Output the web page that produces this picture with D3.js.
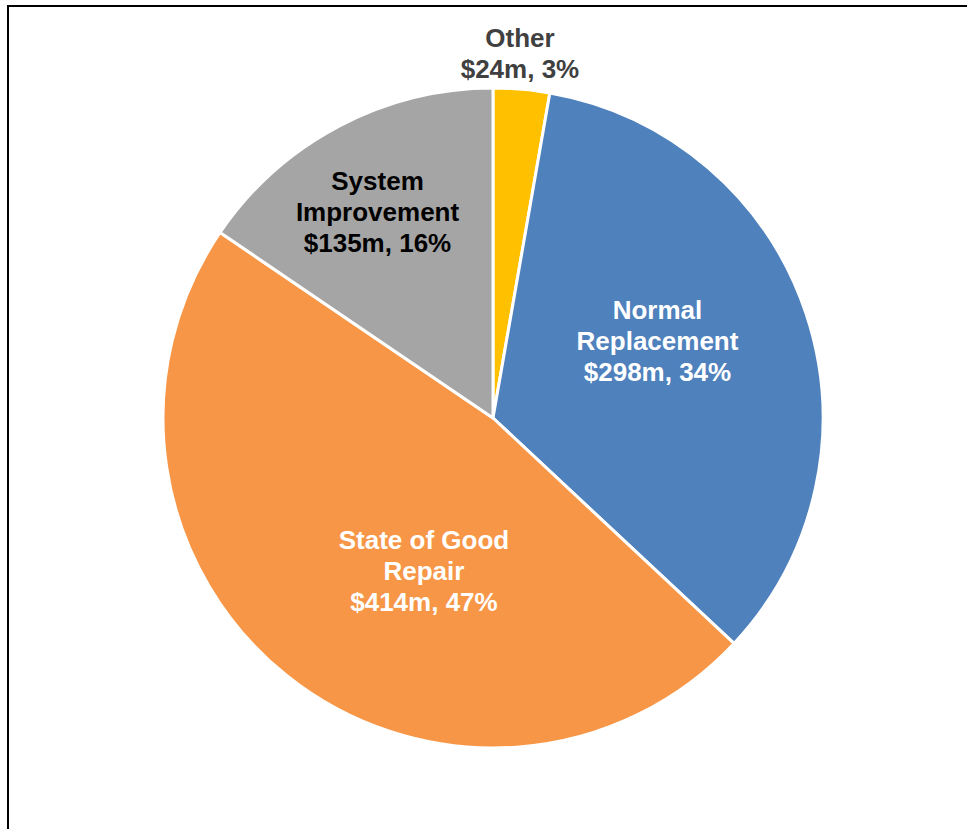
<!DOCTYPE html>
<html>
<head>
<meta charset="utf-8">
<script src="https://cdn.jsdelivr.net/npm/d3@7"></script>
<style>
  html, body { margin: 0; padding: 0; background: #ffffff; }
  svg { display: block; }
</style>
</head>
<body>
<svg id="chart" width="967" height="829"></svg>
<script>
// ---- data ----
const categories = ["Other", "Normal Replacement", "State of Good Repair", "System Improvement"];
const labelLines = [
  ["Other", "$24m, 3%"],
  ["Normal", "Replacement", "$298m, 34%"],
  ["State of Good", "Repair", "$414m, 47%"],
  ["System", "Improvement", "$135m, 16%"]
];
const values = [24, 298, 414, 135];

// ---- styles / layout ----
const colors = ["#FFC000", "#4F81BD", "#F79646", "#A5A5A5"];
const labelColors = ["#404040", "#ffffff", "#ffffff", "#000000"];
const labelNudge = [[12.7, -200.6], [8, -24.6], [34, 24], [-38.3, -60.7]];

const W = 967, H = 829;
const cx = 493, cy = 418, r = 330;
const fontSize = 26, lineH = 31;

const svg = d3.select("#chart");

// frame
svg.append("rect")
  .attr("x", 8).attr("y", 6)
  .attr("width", 1200).attr("height", 1200)
  .attr("fill", "none")
  .attr("stroke", "#000")
  .attr("stroke-width", 2);

const pie = d3.pie().sort(null).value(d => d)(values);
const arc = d3.arc().innerRadius(0).outerRadius(r);

const g = svg.append("g").attr("transform", `translate(${cx},${cy})`);

g.selectAll("path.slice")
  .data(pie)
  .join("path")
  .attr("class", "slice")
  .attr("d", arc)
  .attr("fill", (d, i) => colors[i])
  .attr("stroke", "#ffffff")
  .attr("stroke-width", 3)
  .attr("stroke-linejoin", "round");

const labels = g.selectAll("text.lbl")
  .data(pie)
  .join("text")
  .attr("class", "lbl")
  .attr("text-anchor", "middle")
  .attr("font-family", "'Liberation Sans', Arial, sans-serif")
  .attr("font-weight", "bold")
  .attr("font-size", fontSize)
  .attr("fill", (d, i) => labelColors[i]);

labels.each(function(d, i) {
  const c = arc.centroid(d);
  const x = c[0] + labelNudge[i][0];
  const y = c[1] + labelNudge[i][1];
  const lines = labelLines[i];
  const n = lines.length;
  d3.select(this).selectAll("tspan")
    .data(lines)
    .join("tspan")
    .attr("x", x)
    .attr("y", (t, k) => y + (k - (n - 1) / 2) * lineH + 9.3)
    .text(t => t);
});
</script>
</body>
</html>
